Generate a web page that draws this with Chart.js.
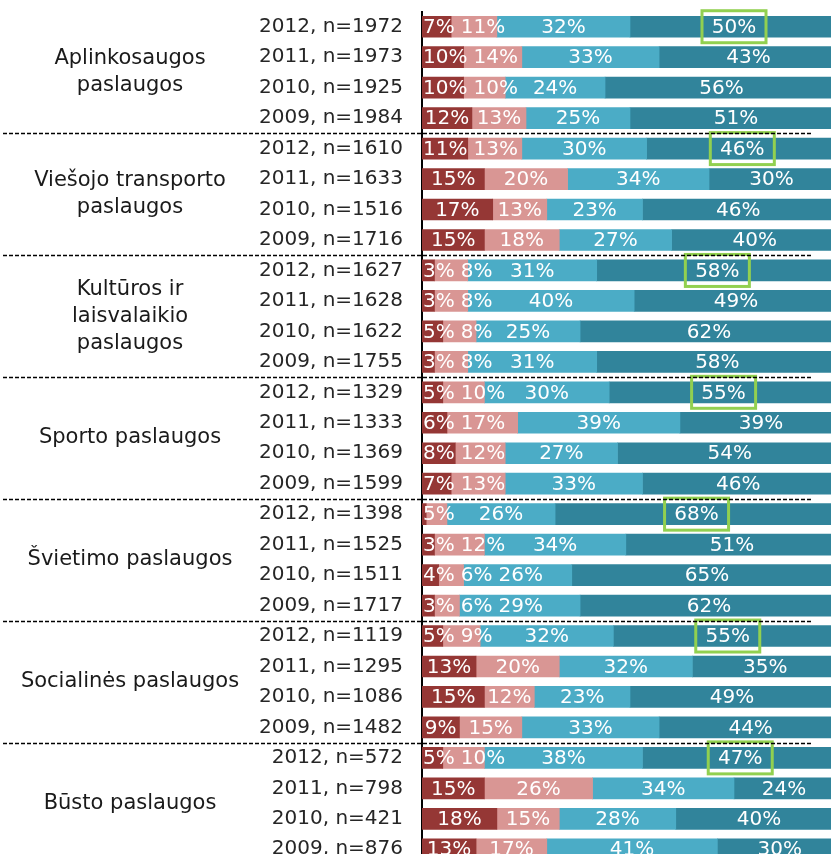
<!DOCTYPE html>
<html>
<head>
<meta charset="utf-8">
<script src="https://cdn.jsdelivr.net/npm/chart.js@4.4.1/dist/chart.umd.min.js"></script>
<style>
  html, body { margin: 0; padding: 0; background: #fff; overflow: hidden; }
  #wrap { position: relative; width: 838px; height: 866px; }
</style>
</head>
<body>
<div id="wrap"><canvas id="chart" width="838" height="866"></canvas></div>
<script>
// service groups (4 years each), drawn on the left
const groupNames = [
  ['Aplinkosaugos', 'paslaugos'],
  ['Viešojo transporto', 'paslaugos'],
  ['Kultūros ir', 'laisvalaikio', 'paslaugos'],
  ['Sporto paslaugos'],
  ['Švietimo paslaugos'],
  ['Socialinės paslaugos'],
  ['Būsto paslaugos']
];

const rowLabels = [
  '2012, n=1972', '2011, n=1973', '2010, n=1925', '2009, n=1984',
  '2012, n=1610', '2011, n=1633', '2010, n=1516', '2009, n=1716',
  '2012, n=1627', '2011, n=1628', '2010, n=1622', '2009, n=1755',
  '2012, n=1329', '2011, n=1333', '2010, n=1369', '2009, n=1599',
  '2012, n=1398', '2011, n=1525', '2010, n=1511', '2009, n=1717',
  '2012, n=1119', '2011, n=1295', '2010, n=1086', '2009, n=1482',
  '2012, n=572', '2011, n=798', '2010, n=421', '2009, n=876'
];

// shares in %, one value per row
const labaiBlogai = [7, 10, 10, 12, 11, 15, 17, 15, 3, 3, 5, 3, 5, 6, 8, 7, 1, 3, 4, 3, 5, 13, 15, 9, 5, 15, 18, 13];
const blogai      = [11, 14, 10, 13, 13, 20, 13, 18, 8, 8, 8, 8, 10, 17, 12, 13, 5, 12, 6, 6, 9, 20, 12, 15, 10, 26, 15, 17];
const gerai       = [32, 33, 24, 25, 30, 34, 23, 27, 31, 40, 25, 31, 30, 39, 27, 33, 26, 34, 26, 29, 32, 32, 23, 33, 38, 34, 28, 41];
const labaiGerai  = [50, 43, 56, 51, 46, 30, 46, 40, 58, 49, 62, 58, 55, 39, 54, 46, 68, 51, 65, 62, 55, 35, 49, 44, 47, 24, 40, 30];

const FONT = '"DejaVu Sans", Verdana, sans-serif';

// white % labels inside the bars, pushed right so they don't overlap;
// green box around the 2012 "labai gerai" label
const barLabels = {
  id: 'barLabels',
  afterDatasetsDraw(chart) {
    const ctx = chart.ctx;
    const left = chart.chartArea.left;
    ctx.save();
    ctx.font = '20px ' + FONT;
    ctx.textAlign = 'center';
    ctx.textBaseline = 'middle';
    ctx.fillStyle = '#ffffff';
    chart.data.labels.forEach((lab, i) => {
      let prevRight = left + 1;
      chart.data.datasets.forEach((ds, di) => {
        const v = ds.data[i];
        if (v < 2) return;
        const p = chart.getDatasetMeta(di).data[i].getProps(['x', 'base', 'y'], true);
        const txt = v + '%';
        const w = ctx.measureText(txt).width;
        let l = Math.max((p.x + p.base) / 2 - w / 2, prevRight);
        const cx = l + w / 2;
        prevRight = l + w + 6;
        ctx.fillText(txt, cx, p.y + 1);
        if (di === 3 && i % 4 === 0) {
          ctx.strokeStyle = '#92d050';
          ctx.lineWidth = 3;
          ctx.strokeRect(cx - 32, p.y - 16, 64, 32);
        }
      });
    });
    ctx.restore();
  }
};

// group names and dashed separators
const groupDecor = {
  id: 'groupDecor',
  afterDraw(chart) {
    const ys = chart.scales.y;
    const ctx = chart.ctx;
    ctx.save();
    ctx.font = '21px ' + FONT;
    ctx.fillStyle = '#1a1a1a';
    ctx.textAlign = 'center';
    ctx.textBaseline = 'middle';
    groupNames.forEach((lines, g) => {
      const top = ys.getPixelForValue(g * 4);
      const bottom = ys.getPixelForValue(g * 4 + 3);
      const mid = (top + bottom) / 2;
      lines.forEach((t, k) => {
        ctx.fillText(t, 130, mid + (k - (lines.length - 1) / 2) * 27);
      });
      if (g > 0) {
        const sy = Math.round((ys.getPixelForValue(g * 4 - 1) + top) / 2) + 0.5;
        ctx.setLineDash([4, 2]);
        ctx.strokeStyle = '#000';
        ctx.lineWidth = 1.5;
        ctx.beginPath();
        ctx.moveTo(3, sy);
        ctx.lineTo(813, sy);
        ctx.stroke();
      }
    });
    ctx.restore();
  }
};

const makeSet = (label, data, color) => ({
  label: label,
  data: data,
  backgroundColor: color,
  borderWidth: 0,
  barThickness: 21
});

new Chart(document.getElementById('chart'), {
  type: 'bar',
  data: {
    labels: rowLabels,
    datasets: [
      makeSet('Labai blogai', labaiBlogai, '#953735'),
      makeSet('Blogai', blogai, '#d99694'),
      makeSet('Gerai', gerai, '#4bacc6'),
      makeSet('Labai gerai', labaiGerai, '#31849b')
    ]
  },
  options: {
    indexAxis: 'y',
    responsive: false,
    animation: false,
    layout: { padding: { left: 0, right: 0, top: 11.5, bottom: 1.5 } },
    plugins: {
      legend: { display: false },
      tooltip: { enabled: false }
    },
    scales: {
      x: {
        stacked: true,
        display: false,
        min: 0,
        max: 100
      },
      y: {
        stacked: true,
        grid: { display: false, drawTicks: false },
        border: { display: true, color: '#000', width: 2 },
        ticks: {
          padding: 19,
          color: '#262626',
          font: { family: FONT, size: 20 }
        },
        afterFit(scale) {
          scale.width = 422;
          scale.paddingTop = 0;
          scale.paddingBottom = 0;
        }
      }
    }
  },
  plugins: [barLabels, groupDecor]
});
</script>
</body>
</html>
